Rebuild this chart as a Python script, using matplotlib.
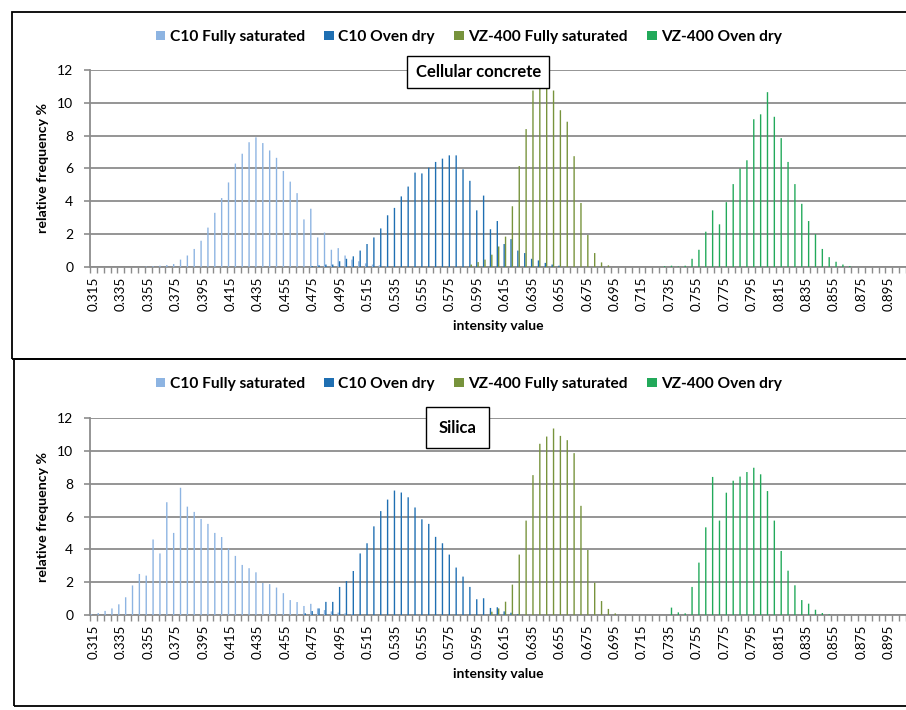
import numpy as np
import matplotlib
matplotlib.use("Agg")
from matplotlib import pyplot as plt
from matplotlib.patches import Patch, Rectangle

plt.rcParams['font.family'] = ['Lato', 'DejaVu Sans']

# intensity bins (categories of the x axis)
bins = np.round(0.315 + 0.005 * np.arange(119), 3)

series_names = ['C10 Fully saturated', 'C10 Oven dry', 'VZ-400 Fully saturated', 'VZ-400 Oven dry']
colors = ['#8db4e2', '#1f6fb2', '#77933c', '#22a95a']

# Cellular concrete: first bin of each series and its values
cc_c10_sat_start = 0.355
cc_c10_sat = [0.03, 0.05, 0.08, 0.12, 0.18, 0.45, 0.7, 1.1, 1.6, 2.4, 3.3, 4.2, 5.15, 6.3, 6.9,
              7.6, 7.9, 7.55, 7.1, 6.65, 5.85, 5.2, 4.5, 2.9, 3.55, 1.8, 2.1, 1.05, 1.15, 0.7,
              0.45, 0.35, 0.22, 0.15, 0.1, 0.06]
cc_c10_dry_start = 0.475
cc_c10_dry = [0.05, 0.1, 0.15, 0.15, 0.35, 0.5, 0.65, 1.0, 1.4, 1.8, 2.35, 3.15, 3.6, 4.3, 4.9,
              5.75, 5.7, 6.05, 6.4, 6.6, 6.8, 6.8, 5.95, 5.25, 3.45, 4.35, 2.3, 2.8, 1.4, 1.7,
              1.0, 0.85, 0.5, 0.4, 0.25, 0.15, 0.08]
cc_vz_sat_start = 0.59
cc_vz_sat = [0.15, 0.3, 0.45, 0.75, 1.25, 1.85, 3.7, 6.15, 8.4, 10.75, 11.2, 11.25, 10.75, 9.55,
             8.85, 6.75, 3.9, 1.95, 0.85, 0.28, 0.1]
cc_vz_dry_start = 0.73
cc_vz_dry = [0.05, 0.08, 0.03, 0.08, 0.5, 1.05, 2.15, 3.45, 2.6, 3.95, 5.05, 6.0, 6.5, 9.0, 9.3,
             10.65, 9.15, 7.85, 6.4, 5.05, 3.85, 2.8, 2.0, 1.1, 0.6, 0.32, 0.15, 0.06]

# Silica
si_c10_sat_start = 0.315
si_c10_sat = [0.05, 0.12, 0.25, 0.4, 0.65, 1.08, 1.8, 2.5, 2.4, 4.6, 3.75, 6.87, 5.0, 7.75, 6.6,
              6.28, 5.85, 5.55, 5.0, 4.75, 4.05, 3.6, 3.05, 2.85, 2.6, 1.95, 1.88, 1.67, 1.33,
              0.91, 0.79, 0.55, 0.68, 0.4, 0.3, 0.22, 0.15, 0.1, 0.05]
si_c10_dry_start = 0.47
si_c10_dry = [0.1, 0.24, 0.4, 0.8, 0.8, 1.71, 2.07, 2.68, 3.75, 4.37, 5.4, 6.33, 7.03, 7.58, 7.46,
              7.17, 6.55, 5.83, 5.55, 4.76, 4.37, 3.68, 2.89, 2.34, 1.71, 0.96, 1.02, 0.43, 0.47,
              0.22, 0.14, 0.05]
si_vz_sat_start = 0.605
si_vz_sat = [0.2, 0.4, 0.81, 1.85, 3.68, 5.75, 8.52, 10.43, 10.87, 11.36, 10.91, 10.65, 9.86,
             6.65, 3.96, 1.97, 0.85, 0.37, 0.1]
si_vz_dry_start = 0.735
si_vz_dry = [0.45, 0.16, 0.1, 1.71, 3.19, 5.34, 8.41, 5.75, 7.45, 8.18, 8.43, 8.71, 8.97, 8.57,
             7.55, 5.75, 3.9, 2.7, 1.81, 0.91, 0.69, 0.32, 0.12, 0.04]


def full(start, vals):
    out = np.zeros(len(bins))
    i0 = int(np.argmin(np.abs(bins - start)))
    out[i0:i0 + len(vals)] = vals
    return out


panels = [
    ('Cellular concrete', [full(cc_c10_sat_start, cc_c10_sat), full(cc_c10_dry_start, cc_c10_dry),
                           full(cc_vz_sat_start, cc_vz_sat), full(cc_vz_dry_start, cc_vz_dry)]),
    ('Silica', [full(si_c10_sat_start, si_c10_sat), full(si_c10_dry_start, si_c10_dry),
                full(si_vz_sat_start, si_vz_sat), full(si_vz_dry_start, si_vz_dry)]),
]

W, H = 906, 710
fig = plt.figure(figsize=(W / 100, H / 100), dpi=100)

ax_top = fig.add_axes([90 / W, 1 - 267 / H, 816 / W, 197 / H])
ax_bot = fig.add_axes([90 / W, 1 - 615 / H, 816 / W, 197 / H])

grid_col = '#8c8c8c'
x = np.arange(len(bins))
w = 0.2
title_pos = [(0.476, 0.99, 0.5), (0.45, 0.95, 0.75)]

for ax, (title, data), (tx, ty, pad) in zip([ax_top, ax_bot], panels, title_pos):
    for k, (vals, col) in enumerate(zip(data, colors)):
        ax.bar(x + (k - 1.5) * w, vals, width=w, color=col, linewidth=0, zorder=3, snap=False)
    ax.set_ylim(0, 12)
    ax.set_yticks(range(0, 13, 2))
    ax.set_xlim(-0.5, len(bins) - 0.5)
    ax.yaxis.grid(True, color=grid_col, linewidth=1.3)
    ax.set_axisbelow(True)
    for s in ['top', 'right']:
        ax.spines[s].set_visible(False)
    for s in ['left', 'bottom']:
        ax.spines[s].set_color(grid_col)
        ax.spines[s].set_linewidth(1.3)
    ax.set_xticks(x[::4])
    ax.set_xticklabels([f'{b:.3f}' for b in bins[::4]], rotation=90, fontsize=9.7)
    ax.set_xticks(np.arange(-0.5, len(bins), 1), minor=True)
    ax.tick_params(axis='x', which='major', length=0, pad=7)
    ax.tick_params(axis='x', which='minor', length=4, color=grid_col, width=1)
    ax.tick_params(axis='y', length=4, color=grid_col, width=1.2, labelsize=10, pad=8)
    ax.set_ylabel('relative frequency %', fontweight='bold', fontsize=10.2, labelpad=6)
    ax.set_xlabel('intensity value', fontweight='bold', fontsize=10, labelpad=6)
    ax.text(tx, ty, title, transform=ax.transAxes, ha='center', va='center',
            fontsize=12, fontweight='bold', zorder=10,
            bbox=dict(boxstyle=f'square,pad={pad}', facecolor='white', edgecolor='black', linewidth=1))

handles = [Patch(facecolor=c, edgecolor='none') for c in colors]
for yc in [37, 384]:
    fig.legend(handles, series_names, loc='center', bbox_to_anchor=(469 / W, 1 - yc / H), ncol=4,
               frameon=False, handlelength=0.6, handleheight=0.6, handletextpad=0.3,
               columnspacing=1.25, prop={'weight': 'bold', 'size': 11.2})

# chart area borders
fig.add_artist(Rectangle((12 / W, 1 - 359 / H), 900 / W, 347 / H, transform=fig.transFigure,
                         fill=False, edgecolor='black', linewidth=1.3))
fig.add_artist(Rectangle((14 / W, 1 - 706 / H), 900 / W, 347 / H, transform=fig.transFigure,
                         fill=False, edgecolor='black', linewidth=1.3))

fig.savefig('out.png', dpi=100)
